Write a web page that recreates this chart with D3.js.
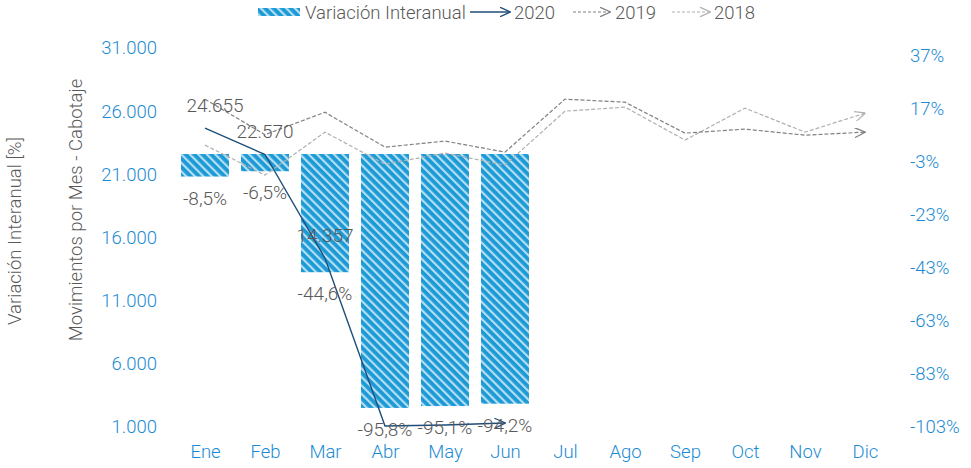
<!DOCTYPE html>
<html>
<head>
<meta charset="utf-8">
<script src="https://cdn.jsdelivr.net/npm/d3@7"></script>
<style>
  body { margin: 0; background: #fff; }
  text { font-family: Roboto, "Noto Sans", sans-serif; font-weight: 300; }
</style>
</head>
<body>
<div id="chart"></div>
<script>
// Donnees
var months = ["Ene","Feb","Mar","Abr","May","Jun","Jul","Ago","Sep","Oct","Nov","Dic"];
var serie2020 = [24655, 22570, 14357, 1080, 1160, 1320];
var serie2019 = [26945, 24140, 25915, 23150, 23630, 22760, 26950, 26710, 24260, 24580, 24100, 24340];
var serie2018 = [23310, 20940, 24340, 21800, 22680, 21730, 26000, 26320, 23710, 26240, 24340, 25840];
var variacion = [-8.5, -6.5, -44.6, -95.8, -95.1, -94.2];
var leftTicks = [1000, 6000, 11000, 16000, 21000, 26000, 31000];
var rightTicks = [-103, -83, -63, -43, -23, -3, 17, 37];

var W = 971, H = 468;
var blue = "#1c8bd4", grey = "#595959";
var fs = 18.5;

var svg = d3.select("#chart").append("svg")
  .attr("width", W).attr("height", H);

var defs = svg.append("defs");
var pat = defs.append("pattern")
  .attr("id", "stripes")
  .attr("patternUnits", "userSpaceOnUse")
  .attr("width", 6).attr("height", 6)
  .attr("patternTransform", "rotate(-45)");
pat.append("rect").attr("width", 6).attr("height", 6).attr("fill", "#1b9ad6");
pat.append("rect").attr("x", 0).attr("width", 2.2).attr("height", 6).attr("fill", "#b3def3");

// fleches ouvertes en bout de ligne
function marker(id, color) {
  defs.append("marker")
    .attr("id", id)
    .attr("viewBox", "0 0 10 10")
    .attr("refX", 9.5).attr("refY", 5)
    .attr("markerWidth", 11).attr("markerHeight", 10)
    .attr("markerUnits", "userSpaceOnUse")
    .attr("orient", "auto")
    .attr("preserveAspectRatio", "none")
    .append("path")
    .attr("d", "M0,0 L10,5 L0,10")
    .attr("fill", "none")
    .attr("stroke", color)
    .attr("stroke-width", 1.2);
}
marker("a2020", "#1f4e79");
marker("a2019", "#808080");
marker("a2018", "#b0b0b0");

var bw = 48;
var xc = d3.scalePoint().domain(months).range([205, 865]);

var yL = d3.scaleLinear().domain([1000, 31000]).range([427, 48]);
var yR = d3.scaleLinear().domain([-103, 40]).range([427, 48]);

// barres
svg.append("g").selectAll("rect")
  .data(variacion).enter().append("rect")
  .attr("x", function(d, i) { return xc(months[i]) - bw / 2; })
  .attr("width", bw)
  .attr("y", yR(0))
  .attr("height", function(d) { return yR(d) - yR(0); })
  .attr("fill", "url(#stripes)");

// lignes
var line = function(data) {
  return d3.line()
    .x(function(d, i) { return xc(months[i]); })
    .y(function(d) { return yL(d); })(data);
};
svg.append("path").attr("d", line(serie2018))
  .attr("fill", "none").attr("stroke", "#b0b0b0").attr("stroke-width", 1.2)
  .attr("stroke-dasharray", "4,2").attr("marker-end", "url(#a2018)");
svg.append("path").attr("d", line(serie2019))
  .attr("fill", "none").attr("stroke", "#808080").attr("stroke-width", 1.2)
  .attr("stroke-dasharray", "4,2").attr("marker-end", "url(#a2019)");
svg.append("path").attr("d", line(serie2020))
  .attr("fill", "none").attr("stroke", "#1f4e79").attr("stroke-width", 1.4)
  .attr("marker-end", "url(#a2020)");

// etiquettes de donnees
var fmtN = function(v) { return d3.format(",")(v).replace(/,/g, "."); };
var fmtP = function(v) { return (v < 0 ? "-" : "") + d3.format(".1f")(Math.abs(v)).replace(".", ",") + "%"; };

svg.append("g").selectAll("text")
  .data(serie2020.slice(0, 3)).enter().append("text")
  .attr("x", function(d, i) { return xc(months[i]) + (i === 0 ? 10 : 0); })
  .attr("y", function(d) { return yL(d) - 16; })
  .attr("text-anchor", "middle")
  .attr("font-size", 19).attr("fill", grey)
  .text(fmtN);

svg.append("g").selectAll("text")
  .data(variacion).enter().append("text")
  .attr("x", function(d, i) { return xc(months[i]); })
  .attr("y", function(d, i) { return i >= 3 ? yR(d) + 28 : yR(d) + 28; })
  .attr("text-anchor", "middle")
  .attr("font-size", 19).attr("fill", grey)
  .text(fmtP);

// axes
var gL = svg.append("g").attr("transform", "translate(157,0)")
  .call(d3.axisLeft(yL).tickValues(leftTicks).tickSize(0).tickPadding(0).tickFormat(fmtN));
var gR = svg.append("g").attr("transform", "translate(910,0)")
  .call(d3.axisRight(yR).tickValues(rightTicks).tickSize(0).tickPadding(0).tickFormat(function(d) { return d + "%"; }));
var gX = svg.append("g").attr("transform", "translate(0,445)")
  .call(d3.axisBottom(xc).tickSize(0).tickPadding(0));
[gL, gR, gX].forEach(function(g) {
  g.select(".domain").remove();
  g.selectAll("text").attr("font-size", fs).attr("fill", blue)
    .style("font-family", "Roboto").style("font-weight", 300);
});
gX.selectAll("text").attr("dy", "0.71em");

// titres des axes
svg.append("text").attr("transform", "translate(21,231) rotate(-90)")
  .attr("text-anchor", "middle").attr("font-size", fs).attr("fill", grey)
  .text("Variación Interanual [%]");
svg.append("text").attr("transform", "translate(82,210) rotate(-90)")
  .attr("text-anchor", "middle").attr("font-size", fs).attr("fill", grey)
  .text("Movimientos por Mes - Cabotaje");

// legende
var lg = svg.append("g").attr("transform", "translate(0,12)");
lg.append("rect").attr("x", 258).attr("y", -4).attr("width", 42).attr("height", 8).attr("fill", "url(#stripes)");
lg.append("text").attr("x", 305).attr("y", 6.5).attr("font-size", fs).attr("fill", grey).text("Variación Interanual");
lg.append("line").attr("x1", 470).attr("x2", 510).attr("y1", 0).attr("y2", 0)
  .attr("stroke", "#1f4e79").attr("stroke-width", 1.4).attr("marker-end", "url(#a2020)");
lg.append("text").attr("x", 514).attr("y", 6.5).attr("font-size", fs).attr("fill", grey).text("2020");
lg.append("line").attr("x1", 573).attr("x2", 610).attr("y1", 0).attr("y2", 0)
  .attr("stroke", "#808080").attr("stroke-width", 1.2).attr("stroke-dasharray", "3,2").attr("marker-end", "url(#a2019)");
lg.append("text").attr("x", 615).attr("y", 6.5).attr("font-size", fs).attr("fill", grey).text("2019");
lg.append("line").attr("x1", 672).attr("x2", 710).attr("y1", 0).attr("y2", 0)
  .attr("stroke", "#b0b0b0").attr("stroke-width", 1.2).attr("stroke-dasharray", "3,2").attr("marker-end", "url(#a2018)");
lg.append("text").attr("x", 714).attr("y", 6.5).attr("font-size", fs).attr("fill", grey).text("2018");
</script>
</body>
</html>
